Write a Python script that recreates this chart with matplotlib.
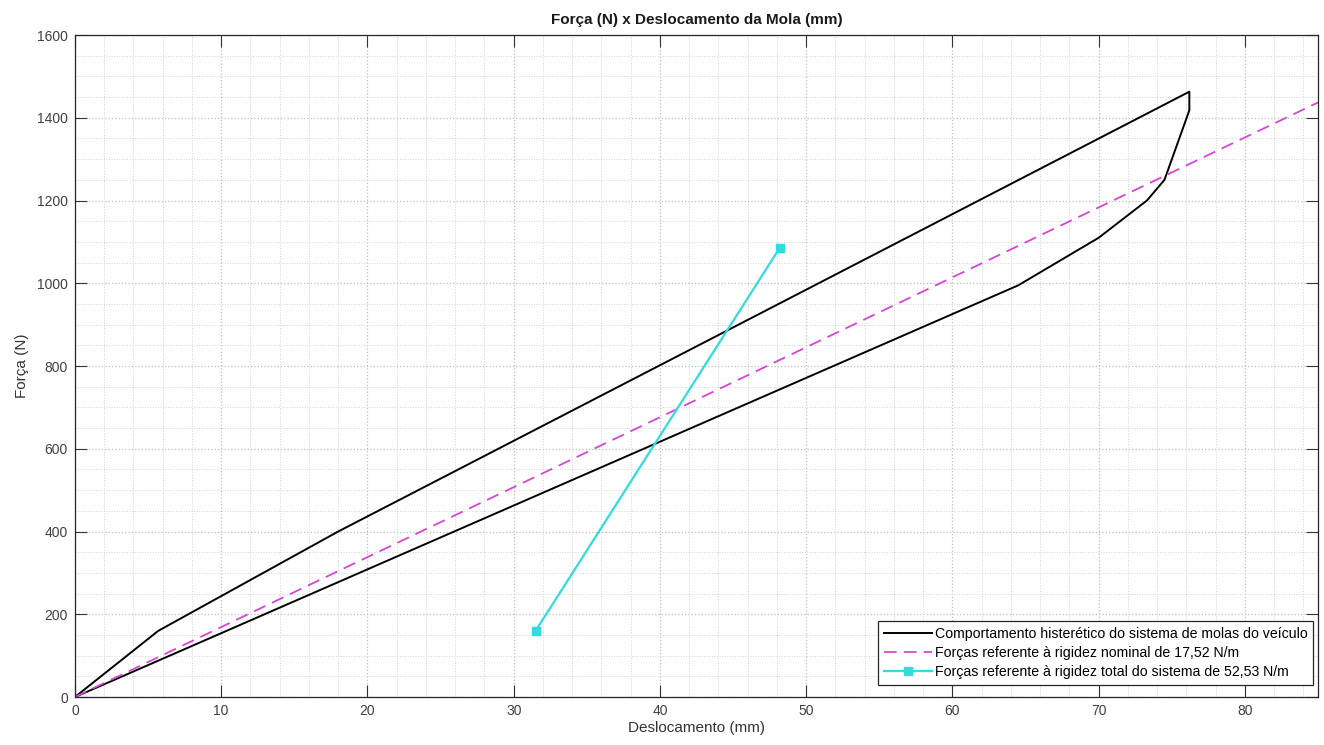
import matplotlib.pyplot as plt
from matplotlib.ticker import MultipleLocator

plt.rcParams['font.family'] = ['Liberation Sans', 'DejaVu Sans']

# hysteresis loop: loading branch then unloading branch (mm, N)
desloc_loop = [0.0, 5.7, 18.0, 76.2, 76.2, 74.5, 73.3, 70.0, 64.5, 0.0]
forca_loop = [0, 160, 400, 1463, 1418, 1250, 1200, 1110, 995, 0]

# nominal stiffness reference line
desloc_nominal = [0.0, 85.0]
forca_nominal = [0, 1437]

# total system stiffness reference line
desloc_total = [31.5, 48.2]
forca_total = [160, 1086]

fig = plt.figure(figsize=(13.24, 7.45), dpi=100)
ax = fig.add_axes([0.0566, 0.0644, 0.9389, 0.8886])

ax.plot(desloc_loop, forca_loop, color='black', linewidth=1.4,
        label='Comportamento histerético do sistema de molas do veículo')
ax.plot(desloc_nominal, forca_nominal, color='#d645d6', linestyle=(0, (7, 4)),
        linewidth=1.3, label='Forças referente à rigidez nominal de 17,52 N/m')
ax.plot(desloc_total, forca_total, color='#33dcdc', linewidth=1.6,
        marker='s', markersize=6, markerfacecolor='#33dcdc',
        markeredgecolor='#33dcdc',
        label='Forças referente à rigidez total do sistema de 52,53 N/m')

ax.set_xlim(0, 85)
ax.set_ylim(0, 1600)
ax.xaxis.set_major_locator(MultipleLocator(10))
ax.xaxis.set_minor_locator(MultipleLocator(2))
ax.yaxis.set_major_locator(MultipleLocator(200))
ax.yaxis.set_minor_locator(MultipleLocator(50))

ax.grid(which='major', linestyle=':', color='#bfbfbf', linewidth=0.9)
ax.grid(which='minor', linestyle=':', color='#d4d4d4', linewidth=0.7)
ax.set_axisbelow(True)

ax.tick_params(which='major', direction='in', length=8.5, width=0.8,
               top=True, right=True, labelsize=10, colors='#333333',
               labelcolor='#404040', pad=5)
ax.tick_params(which='minor', length=0)
for s in ax.spines.values():
    s.set_color('#262626')
    s.set_linewidth(0.9)

ax.set_title('Força (N) x Deslocamento da Mola (mm)', fontsize=11,
             fontweight='bold', pad=8, color='#1a1a1a')
ax.set_xlabel('Deslocamento (mm)', fontsize=11, color='#333333', labelpad=2)
ax.set_ylabel('Força (N)', fontsize=11, color='#333333', labelpad=6)

leg = ax.legend(loc='lower right', fontsize=10.2, handlelength=3.4,
                handletextpad=0.2, labelspacing=0.38, borderpad=0.4,
                borderaxespad=0, fancybox=False, framealpha=1,
                edgecolor='#262626', bbox_to_anchor=(0.996, 0.018))
leg.get_frame().set_linewidth(0.9)

fig.savefig('out.png', dpi=100)
